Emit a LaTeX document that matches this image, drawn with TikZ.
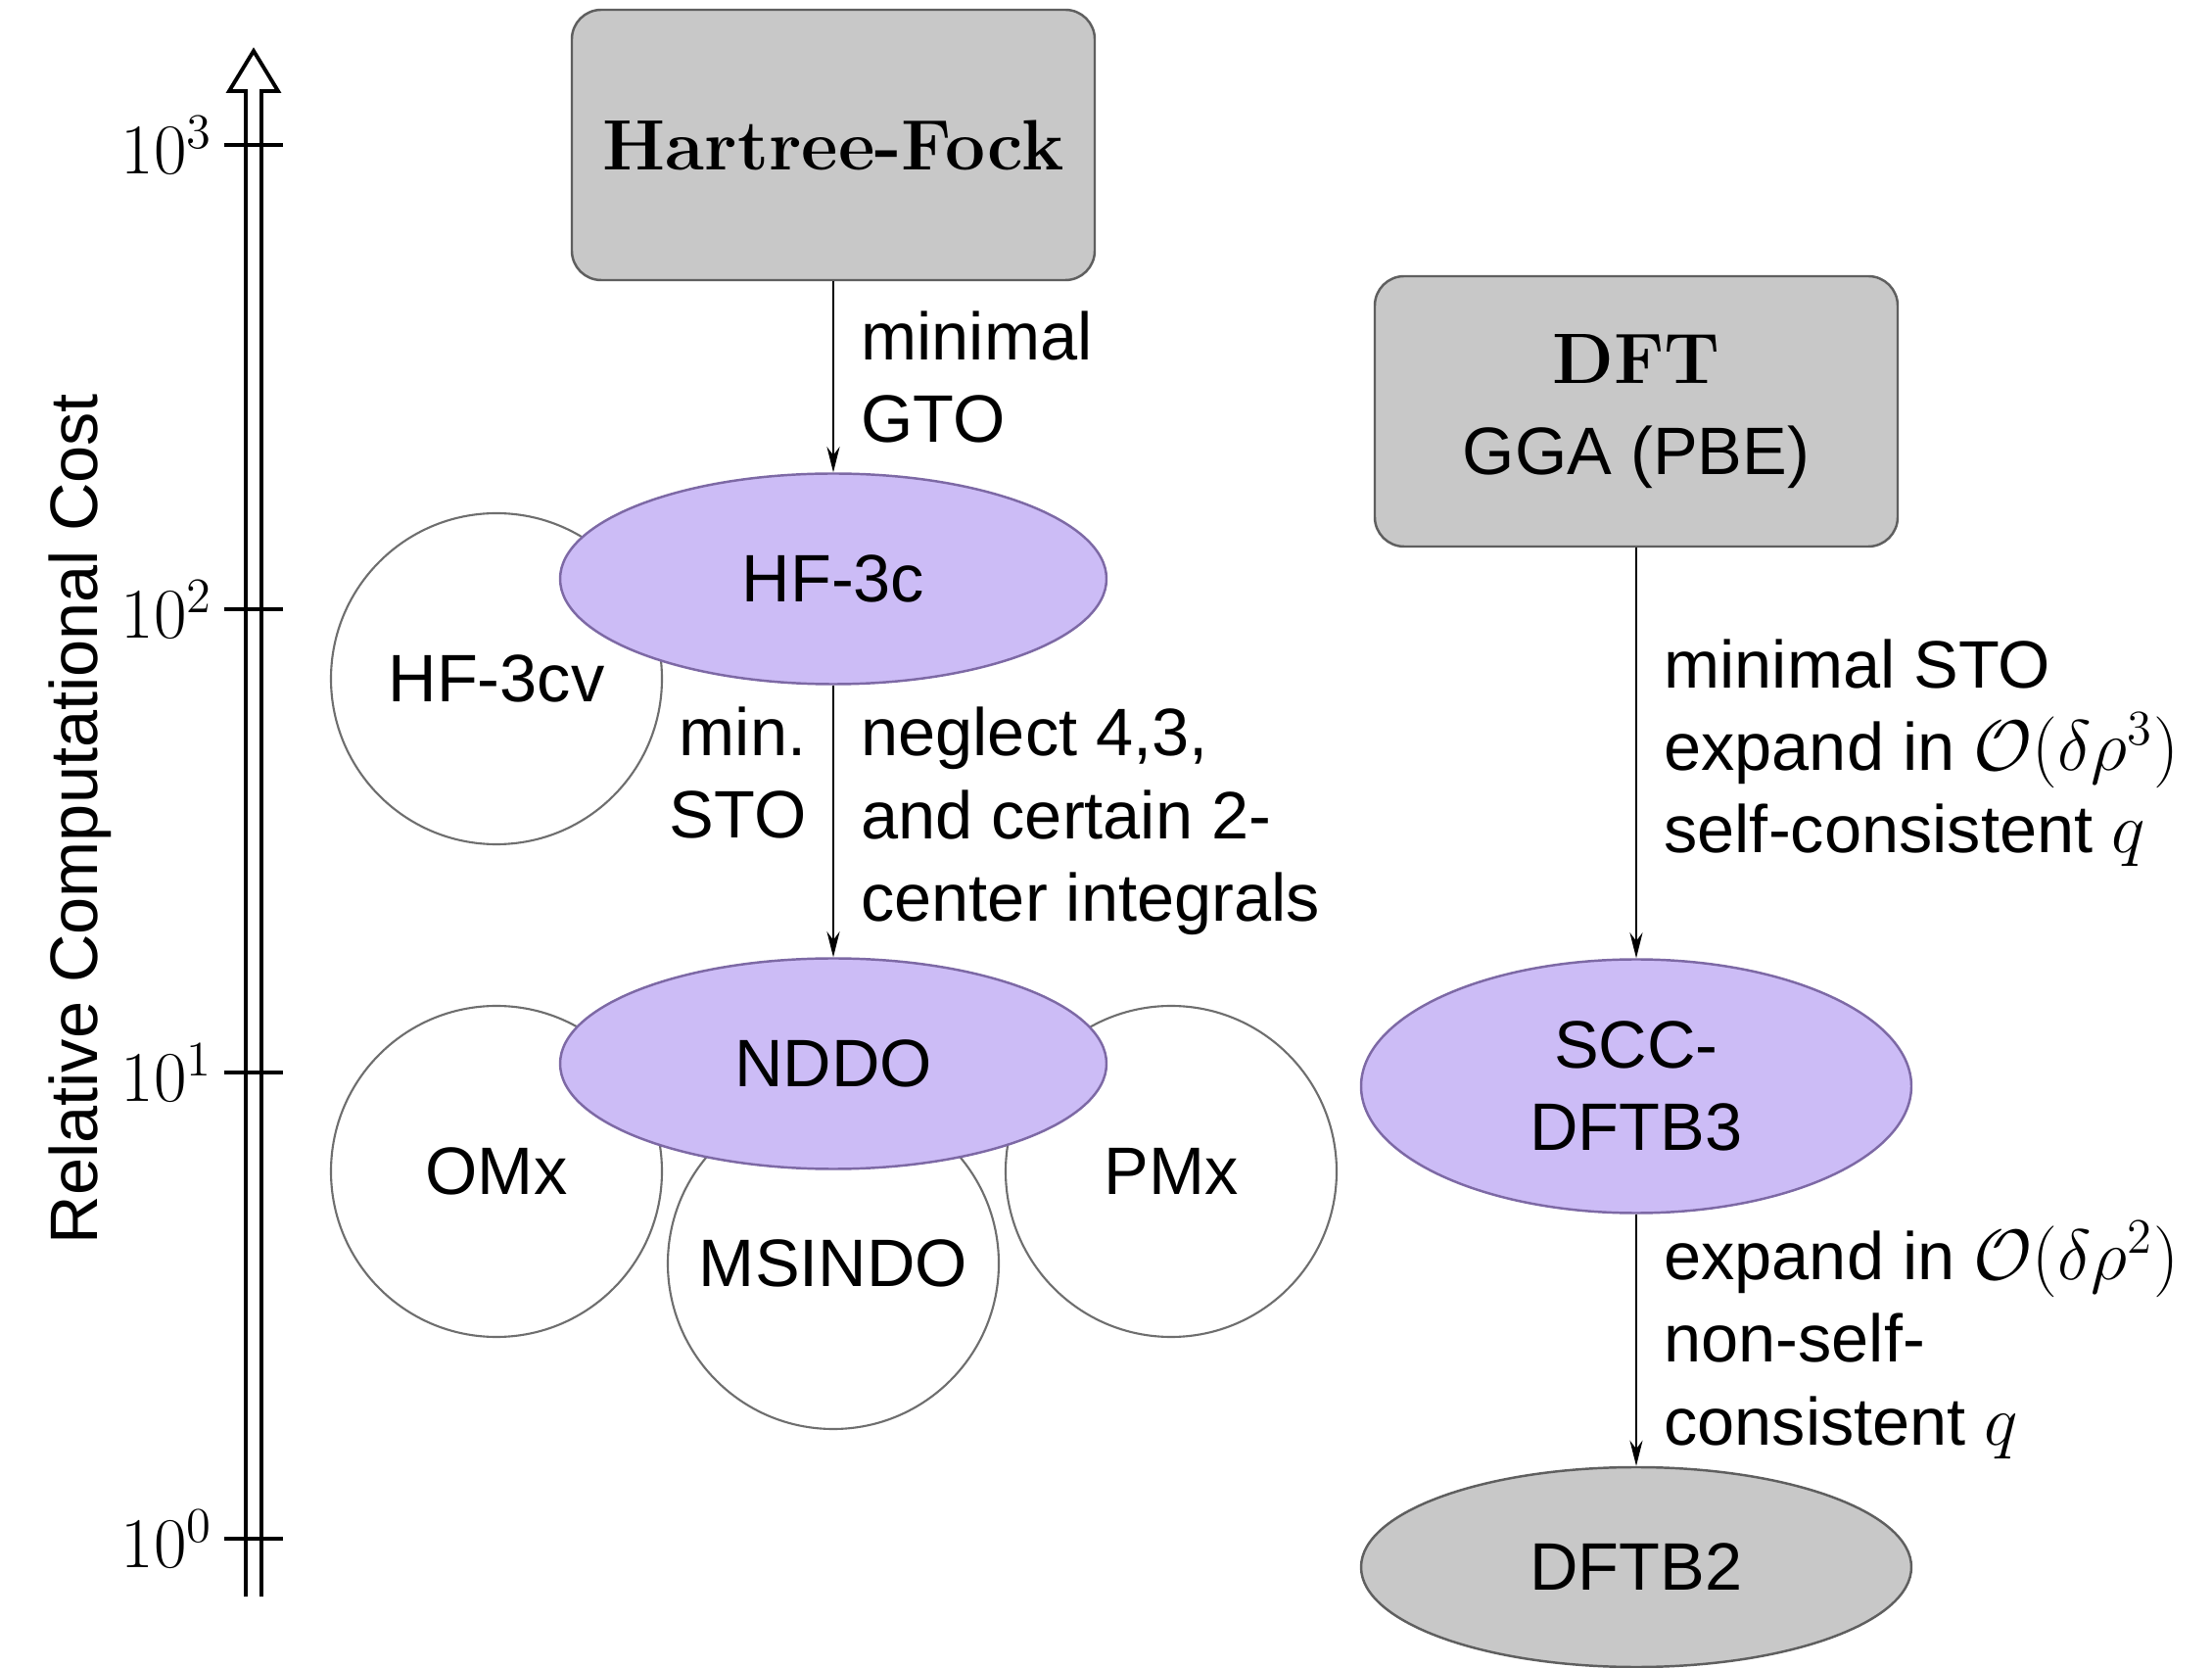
\documentclass[tikz,border=0pt]{standalone}
\usepackage{fix-cm}
\usepackage{fontspec}
\setsansfont{Liberation Sans}[Scale=0.94]
\usetikzlibrary{shapes.geometric, arrows.meta}

\definecolor{boxgray}{RGB}{200,200,200}
\definecolor{boxedge}{RGB}{95,95,95}
\definecolor{lavender}{RGB}{204,188,246}
\definecolor{lavedge}{RGB}{125,105,165}
\definecolor{ringedge}{RGB}{110,110,110}

\begin{document}
\begin{tikzpicture}[>={Stealth[length=2.6mm, width=1.3mm]},
  font=\sffamily\fontsize{20.74}{24}\selectfont,
  method/.style={draw=boxedge, fill=boxgray, rounded corners=3mm, line width=0.7pt,
    minimum width=5.34cm, minimum height=2.76cm, align=center},
  semi/.style={ellipse, draw=lavedge, fill=lavender, line width=0.7pt, inner sep=0pt,
    minimum width=5.58cm, minimum height=2.15cm, align=center},
  variant/.style={circle, draw=ringedge, fill=white, line width=0.6pt, minimum size=3.38cm},
  note/.style={align=left, inner sep=2.7mm},
  conn/.style={->, line width=0.8pt},
  axisline/.style={line width=1.1pt}]
  \useasboundingbox (0,0) rectangle (22.59,17.02);
  % Cost axis
  \draw[axisline] (2.51,0.72) -- (2.51,16.09) -- (2.34,16.09) -- (2.59,16.50)
    -- (2.84,16.09) -- (2.67,16.09) -- (2.67,0.72);
  \foreach \e/\y in {0/1.31, 1/6.07, 2/10.80, 3/15.54}
    \draw[axisline] (2.89,\y) -- (2.29,\y) node[left, inner sep=1mm] (tick\e) {$10^{\e}$};
  \node[rotate=90] (costlabel) at (0.82,8.66) {Relative Computational Cost};
  % Hartree-Fock branch
  \node[variant] (hf3cv) at (5.07,10.09) {HF-3cv};
  \node[method] (hf) at (8.51,15.54) {\rmfamily\bfseries Hartree-Fock};
  \node[semi] (hf3c) at (8.51,11.11) {HF-3c};
  \node[variant] (omx) at (5.07,5.06) {OMx};
  \node[variant] (msindo) at (8.51,4.12) {MSINDO};
  \node[variant] (pmx) at (11.96,5.06) {PMx};
  \node[semi] (nddo) at (8.51,6.16) {NDDO};
  \draw[conn] (hf) -- (hf3c) node[note, midway, right] (lblgto) {minimal\\GTO};
  \draw[conn] (hf3c) -- (nddo) node[note, midway, right] (lblneglect)
    {neglect 4,3,\\and certain 2-\\center integrals};
  \node[note, anchor=north east, align=right] (lblmin) at (lblneglect.north west -| hf3c.south) {min.\\STO};
  % DFT branch
  \node[method] (dft) at (16.71,12.82) {{\rmfamily\bfseries DFT}\\[0.8mm]GGA (PBE)};
  \node[semi, minimum width=5.62cm, minimum height=2.59cm] (scc) at (16.71,5.93) {SCC-\\DFTB3};
  \node[semi, fill=boxgray, draw=boxedge, minimum width=5.62cm, minimum height=2.04cm]
    (dftb2) at (16.71,1.02) {DFTB2};
  \draw[conn] (dft) -- (scc) node[note, midway, right] (lblsto)
    {minimal STO\\expand in $\mathcal{O}(\delta\rho^3)$\\self-consistent $q$};
  \draw[conn] (scc) -- (dftb2) node[note, midway, right] (lblnonscc)
    {expand in $\mathcal{O}(\delta\rho^2)$\\non-self-\\consistent $q$};
\end{tikzpicture}
\end{document}
